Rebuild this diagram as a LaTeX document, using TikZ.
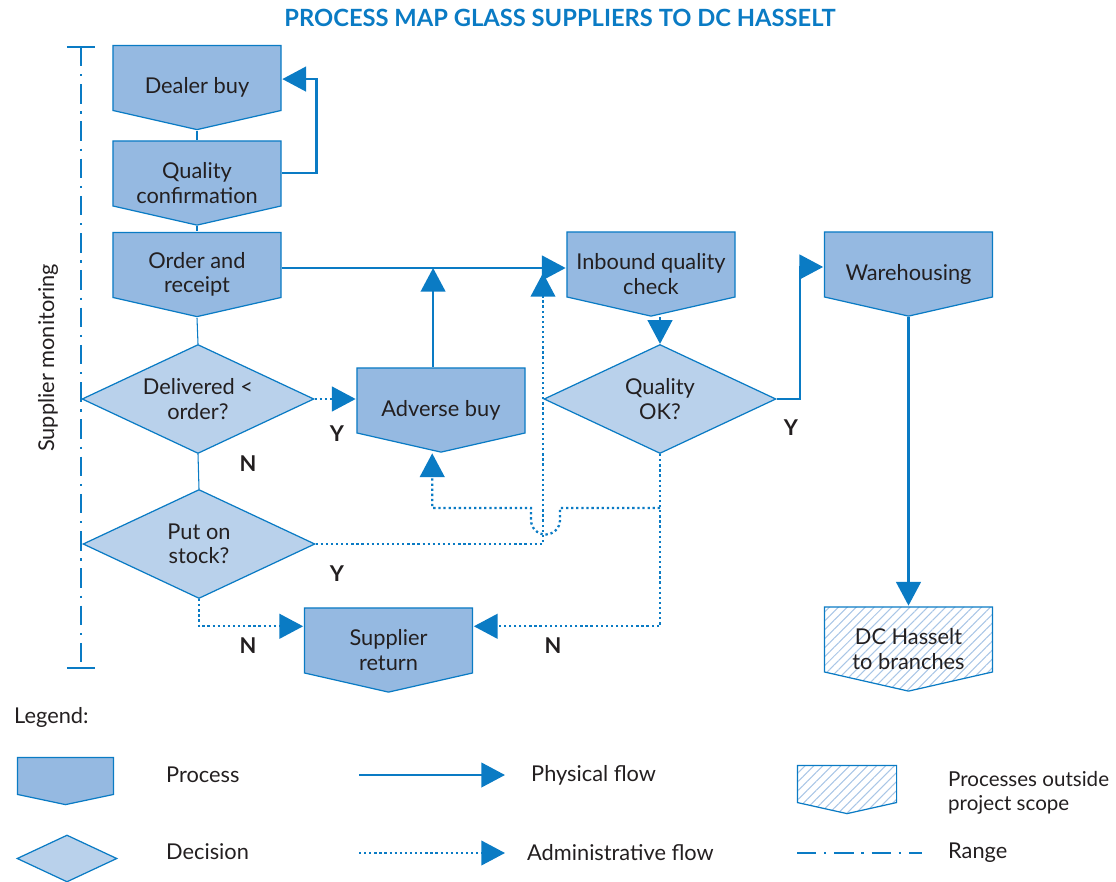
\documentclass[tikz,border=0pt]{standalone}
\usepackage{fontspec}
\setmainfont{Lato}
\usetikzlibrary{positioning, arrows.meta, shapes.geometric, calc, patterns.meta}

\definecolor{lineblue}{HTML}{0A7BC4}
\definecolor{procfill}{HTML}{95B9E1}
\definecolor{decfill}{HTML}{B9D1EB}
\definecolor{hatchblue}{HTML}{A9C6E6}
\definecolor{txt}{HTML}{231F20}

\tikzset{
    pent/.style 2 args={path picture={
        \filldraw[draw=lineblue, line width=0.7pt, #1]
            ([xshift=0.5pt, yshift=-0.5pt]path picture bounding box.north west)
            -- ([xshift=-0.5pt, yshift=-0.5pt]path picture bounding box.north east)
            -- ([xshift=-0.5pt, yshift=#2]path picture bounding box.south east)
            -- ([yshift=0.5pt]path picture bounding box.south)
            -- ([xshift=0.5pt, yshift=#2]path picture bounding box.south west) -- cycle;}}
}

\begin{document}
\begin{tikzpicture}[
    x=0.02cm, y=-0.02cm,
    >={Triangle[length=13.5pt, width=14pt]},
    font=\fontsize{12.4}{13.8}\selectfont,
    procbox/.style={rectangle, inner sep=0pt, minimum width=3.4cm, minimum height=1.72cm,
        align=center, text=txt, pent={fill=procfill}{11.4pt}},
    scopebox/.style={procbox, pent={fill=white, pattern={Lines[angle=45, distance=3.6pt, line width=0.6pt]},
        pattern color=hatchblue}{11.4pt}},
    decbox/.style={diamond, aspect=2.13, draw=lineblue, line width=0.7pt, fill=decfill, minimum width=4.64cm,
        minimum height=2.18cm, inner sep=0pt, align=center, text=txt},
    phys/.style={->, draw=lineblue, line width=1.4pt},
    admin/.style={->, draw=lineblue, line width=1.3pt, dash pattern=on 1.3pt off 1.6pt},
    thinline/.style={draw=lineblue, line width=0.6pt},
    rangeline/.style={draw=lineblue, line width=1.1pt, dash pattern=on 11pt off 4.5pt on 1.2pt off 4.5pt},
    yn/.style={font=\fontsize{12.4}{14}\selectfont\bfseries, text=txt},
    legtext/.style={anchor=west, align=left, text=txt}
]
    \useasboundingbox (0,0) rectangle (1116,882);

    % --- Title ---
    \node[font=\fontsize{13.5}{16}\selectfont\bfseries, text=lineblue] (title) at (560,18)
        {PROCESS MAP GLASS SUPPLIERS TO DC HASSELT};

    % --- Range ---
    \coordinate (rtop) at (81,47);
    \coordinate (rbot) at (81,668);
    \draw[rangeline] (rtop) -- (rbot);
    \draw[lineblue, line width=1.1pt] ([xshift=-8pt]rtop) -- ([xshift=8pt]rtop);
    \draw[lineblue, line width=1.1pt] ([xshift=-8pt]rbot) -- ([xshift=8pt]rbot);
    \node[rotate=90, text=txt] (monitor) at (48,358) {Supplier monitoring};

    % --- Processes ---
    \node[procbox] (dealer) at (197,87.5) {Dealer buy};
    \node[procbox] (qconf) at (197,183) {Quality\\confirmation};
    \node[procbox] (order) at (197,274.5) {Order and\\receipt};
    \node[procbox] (adverse) at (441,410) {Adverse buy};
    \node[procbox] (inbound) at (651,274) {Inbound quality\\check};
    \node[procbox] (wareh) at (908.5,274) {Warehousing};
    \node[procbox] (supret) at (388.5,650) {Supplier\\return};
    \node[scopebox] (dchasselt) at (908.5,649) {DC Hasselt\\to branches};

    % --- Decisions ---
    \node[decbox] (delivered) at (198,399) {Delivered <\\order?};
    \node[decbox] (stock) at (199,544) {Put on\\stock?};
    \node[decbox] (qok) at (660,399) {Quality\\OK?};

    % --- Physical flow ---
    \draw[thinline] (dealer.south) -- (qconf.north);
    \draw[thinline] (qconf.south) -- (order.north);
    \draw[thinline] (order.south) -- (delivered.north);
    \draw[thinline] (delivered.south) -- (stock.north);
    \draw[phys] ([yshift=5.7pt]qconf.east) -- ++(34,0) |- ([yshift=4.8pt]dealer.east);

    \coordinate (flowline) at ([yshift=3.7pt]order.east);
    \draw[phys] (flowline) -- (flowline -| inbound.west);
    \coordinate (advtop) at ([xshift=-4.5pt]adverse.north);
    \draw[phys] (advtop) -- (advtop |- flowline);

    \coordinate (whin) at ([yshift=4pt]wareh.west);
    \draw[phys] (qok.east) -| ($(qok.east)!0.5!(whin)$) |- (whin);
    \draw[phys] (wareh.south) -- (dchasselt.north);

    % --- Administrative flow ---
    \draw[admin] (inbound.south -| qok.north) -- (qok.north);
    \draw[admin] (delivered.east) -- (delivered.east -| adverse.west);

    \coordinate (jx) at (543,273);
    \draw[admin] (stock.east) -| (jx);

    \coordinate (srin) at ([yshift=13.5pt]supret.east);
    \coordinate (srw) at ([yshift=13.5pt]supret.west);
    \draw[admin] (qok.south) |- (srin);
    \draw[admin] (stock.south) |- (srw);

    % Quality OK? back to adverse buy, jumping the stock line
    \coordinate (split) at (660,508);
    \coordinate (advbot) at ([xshift=-5pt]adverse.south);
    \draw[admin] (split) -- (560,508) -- (560,520) arc[start angle=0, end angle=-180, radius=0.29cm]
        -- (531,508) -| (advbot);

    % --- Y / N ---
    \node[yn] (y1) at (337,434) {Y};
    \node[yn] (n1) at (248,464) {N};
    \node[yn] (y2) at (337,574) {Y};
    \node[yn] (n2) at (248,646) {N};
    \node[yn] (n3) at (553,646) {N};
    \node[yn] (y3) at (791,428) {Y};

    % --- Legend ---
    \node[legtext] (legend) at (8,717) {Legend:};
    \node[procbox, minimum width=1.96cm, minimum height=0.98cm, pent={fill=procfill}{6.3pt}] (legproc) at (65.5,781) {};
    \node[legtext] (legproctxt) at (160,775) {Process};
    \node[decbox, minimum width=2cm, minimum height=0.94cm] (legdec) at (67,858.5) {};
    \node[legtext] (legdectxt) at (160,852) {Decision};

    \coordinate (physa) at (359,775);
    \coordinate (physb) at (505,775);
    \draw[phys] (physa) -- (physb);
    \node[legtext] (physlbl) at (525,775) {Physical flow};
    \coordinate (admina) at (359,853);
    \coordinate (adminb) at (505,853);
    \draw[admin] (admina) -- (adminb);
    \node[legtext] (adminlbl) at (521,853) {Administrative flow};

    \node[scopebox, minimum width=2.02cm, minimum height=1cm,
        pent={fill=white, pattern={Lines[angle=45, distance=3.6pt, line width=0.6pt]}, pattern color=hatchblue}{6.8pt}]
        (legscope) at (847,789.5) {};
    \node[legtext, font=\fontsize{11.7}{13.8}\selectfont] (scopelbl) at (942,793) {Processes outside\\project scope};
    \coordinate (rangea) at (797,853);
    \coordinate (rangeb) at (922,853);
    \draw[rangeline] (rangea) -- (rangeb);
    \node[legtext] (rangelbl) at (942,853) {Range};

\end{tikzpicture}
\end{document}
